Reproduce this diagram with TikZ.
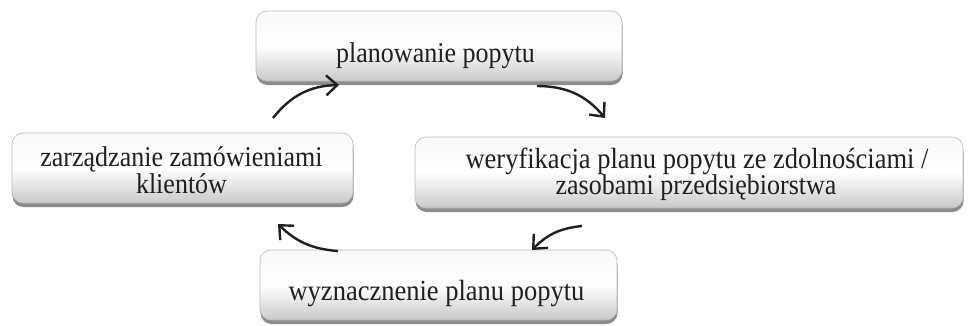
\documentclass[tikz,border=0pt]{standalone}
\usepackage{fontspec}
\setmainfont{Liberation Serif}
\newfontfamily\boxfont{Liberation Serif}
\usetikzlibrary{shadows,arrows.meta,calc}
\definecolor{txt}{HTML}{231F20}
\newcommand{\boxline}[3][0pt]{\makebox[0pt][c]{\hspace*{#1}\hspace*{#1}\raisebox{#2}[0pt][0pt]{\scalebox{1}[1.1]{#3}}}}
\tikzset{
  box/.style={rounded corners=11pt, draw=gray!55, line width=0.6pt,
    top color=white!95!gray, bottom color=gray!42, middle color=white,
    drop shadow={shadow xshift=0.5pt, shadow yshift=-4pt, opacity=0.6, fill=black!75},
    minimum height=70pt, align=center, font=\boxfont\fontsize{26}{26}\selectfont, text=txt,
    inner sep=0pt},
  cyc/.style={line width=2.4pt, draw=txt, -{Straight Barb[length=11pt,width=20pt,line width=2.4pt]}}
}
\begin{document}
\begin{tikzpicture}[x=1pt,y=-1pt]
\useasboundingbox (0,0) rectangle (969,325);
\node[box, minimum width=366pt] (plan) at (439,46)
  {\boxline[-3.5pt]{-16pt}{planowanie popytu}};
\node[box, minimum width=341pt] (zarz) at (182.5,168)
  {\boxline[-1pt]{2pt}{zarządzanie zamówieniami}\boxline[-1pt]{-25pt}{klientów}};
\node[box, minimum width=548pt, minimum height=71pt] (wer) at (689,172.5)
  {\boxline[8pt]{4.5pt}{\fontsize{26.5}{26}\selectfont weryfikacja planu popytu ze zdolnościami /}\boxline[7pt]{-21.5pt}{zasobami przedsiębiorstwa}};
\node[box, minimum width=357pt] (wyz) at (438.5,285)
  {\boxline[-2pt]{-15pt}{\fontsize{26.5}{26}\selectfont wyznacznenie planu popytu}};
\coordinate (a1s) at (273,118);
\coordinate (a1e) at (339,85);
\coordinate (a2s) at (537,86);
\coordinate (a2e) at (605,118);
\coordinate (a3s) at (582,226);
\coordinate (a3e) at (532,250);
\coordinate (a4s) at (338,251);
\coordinate (a4e) at (278,224);
\draw[cyc] (a1s) to[bend left=25] (a1e);
\draw[cyc] (a2s) to[bend left=25] (a2e);
\draw[cyc] (a3s) to[bend right=20] (a3e);
\draw[cyc] (a4s) to[bend left=20] (a4e);
\end{tikzpicture}
\end{document}
